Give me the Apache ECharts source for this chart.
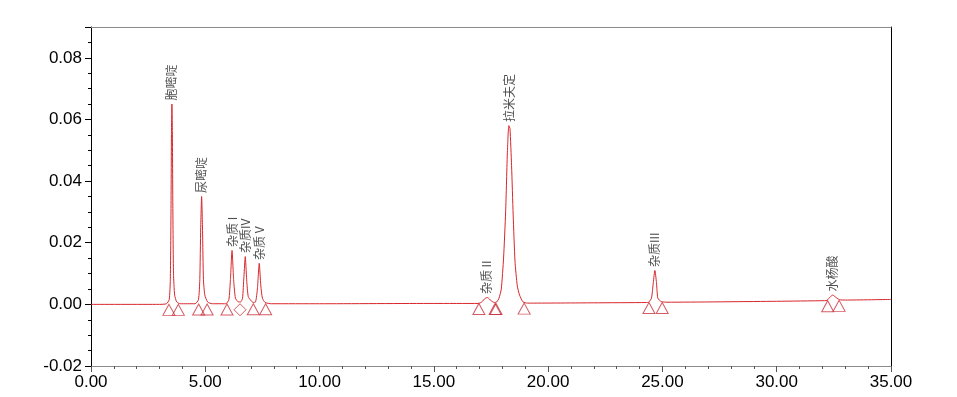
<!DOCTYPE html>
<html>
<head>
<meta charset="utf-8">
<script src="https://cdn.jsdelivr.net/npm/echarts@6/dist/echarts.min.js"></script>
<style>
html,body{margin:0;padding:0;background:#fff;}
#chart{width:957px;height:397px;}
</style>
</head>
<body>
<div id="chart"></div>
<script>
// Chromatogram trace: retention time (min) and signal (AU)
var traceTime = [
  0, 3.00, 3.30, 3.42, 3.47, 3.50, 3.52, 3.54, 3.56, 3.58, 3.61, 3.66, 3.75, 3.90,
  4.55, 4.70, 4.76, 4.80, 4.84, 4.88, 4.92, 4.98, 5.10, 5.30,
  5.90, 6.03, 6.10, 6.17, 6.24, 6.32, 6.45,
  6.55, 6.63, 6.69, 6.75, 6.81, 6.88, 7.00, 7.10,
  7.20, 7.28, 7.36, 7.43, 7.50, 7.62, 7.90,
  10.0, 15.0, 16.95, 17.10, 17.25, 17.35, 17.50, 17.65, 17.75,
  17.85, 17.95, 18.05, 18.14, 18.22, 18.28, 18.33, 18.40, 18.47, 18.55, 18.65, 18.75, 18.90, 19.10,
  22.0, 24.30, 24.40, 24.52, 24.60, 24.67, 24.74, 24.80, 24.95, 25.20,
  30.0, 32.10, 32.20, 32.35, 32.45, 32.60, 32.75, 33.00, 35.00
];
var traceSignal = [
  0.0000, 0.0000, 0.0002, 0.0015, 0.0080, 0.0300, 0.0550, 0.0650, 0.0560, 0.0320, 0.0100, 0.0030, 0.0008, 0.0002,
  0.0002, 0.0015, 0.0080, 0.0250, 0.0350, 0.0240, 0.0080, 0.0030, 0.0008, 0.0002,
  0.0002, 0.0015, 0.0080, 0.0175, 0.0080, 0.0020, 0.0008,
  0.0008, 0.0020, 0.0090, 0.0155, 0.0080, 0.0025, 0.0012, 0.0006,
  0.0008, 0.0050, 0.0133, 0.0060, 0.0020, 0.0006, 0.0002,
  0.0002, 0.0003, 0.0003, 0.0008, 0.0020, 0.0022, 0.0012, 0.0006, 0.0008,
  0.0020, 0.0050, 0.0150, 0.0300, 0.0500, 0.0580, 0.0570, 0.0450, 0.0290, 0.0140, 0.0060, 0.0030, 0.0008, 0.0004,
  0.0005, 0.0006, 0.0007, 0.0020, 0.0070, 0.0110, 0.0070, 0.0020, 0.0009, 0.0007,
  0.0010, 0.0012, 0.0013, 0.0025, 0.0030, 0.0022, 0.0015, 0.0014, 0.0016
];

// Peak names, apex times and apex heights
var peakNames = ['胞嘧啶', '尿嘧啶', '杂质 I', '杂质IV', '杂质 V', '杂质 II', '拉米夫定', '杂质III', '水杨酸'];
var peakTimes = [3.54, 4.84, 6.17, 6.75, 7.36, 17.30, 18.30, 24.67, 32.45];
var peakTops  = [0.0650, 0.0350, 0.0175, 0.0155, 0.0133, 0.0022, 0.0580, 0.0110, 0.0030];

// Integration markers (peak start / end) on the baseline
var triangleTimes  = [3.41, 3.82, 4.71, 5.08, 5.95, 7.10, 7.64, 16.97, 17.68, 17.72, 18.95, 24.41, 24.99, 32.23, 32.73];
var triangleLevels = [0.0000, 0.0000, 0.0001, 0.0001, 0.0001, 0.0002, 0.0002, 0.0003, 0.0003, 0.0003, 0.0004, 0.0006, 0.0006, 0.0012, 0.0013];
var diamondTimes  = [6.52];
var diamondLevels = [0.0002];

// Axis ticks
var xMin = 0, xMax = 35, xStep = 5;
var yMin = -0.02, yMax = 0.09, yStep = 0.02;

function zip(a, b) { return a.map(function (v, i) { return [v, b[i]]; }); }

var chart = echarts.init(document.getElementById('chart'), null, {renderer: 'canvas'});
var traceColor = '#d8262b';
var markColor = '#c8323c';
var labelFont = 'Liberation Sans, Arial, sans-serif';

chart.setOption({
  animation: false,
  backgroundColor: '#ffffff',
  grid: {left: 91, right: 66, top: 27, bottom: 31, containLabel: false},
  xAxis: [{
    type: 'value', position: 'bottom', min: xMin, max: xMax, interval: xStep,
    axisLine: {show: true, onZero: false, lineStyle: {color: '#8a8a8a', width: 1}},
    axisTick: {show: true, length: 6, lineStyle: {color: '#555'}},
    minorTick: {show: true, splitNumber: 5, length: 3, lineStyle: {color: '#555'}},
    splitLine: {show: false},
    axisLabel: {color: '#000', fontFamily: labelFont, fontSize: 17, margin: 8,
      formatter: function (v) { return v.toFixed(2); }}
  }, {
    type: 'value', position: 'top', min: xMin, max: xMax,
    axisLine: {show: true, onZero: false, lineStyle: {color: '#8a8a8a', width: 1}},
    axisTick: {show: false}, axisLabel: {show: false}, splitLine: {show: false}
  }],
  yAxis: [{
    type: 'value', position: 'left', min: yMin, max: yMax, interval: yStep,
    axisLine: {show: true, onZero: false, lineStyle: {color: '#000', width: 1}},
    axisTick: {show: true, length: 6, lineStyle: {color: '#000'}},
    minorTick: {show: true, splitNumber: 4, length: 3, lineStyle: {color: '#000'}},
    splitLine: {show: false},
    axisLabel: {color: '#000', fontFamily: labelFont, fontSize: 17, margin: 9, showMaxLabel: false,
      formatter: function (v) {
        var k = Math.round(v / yStep * 1000) / 1000;
        if (Math.abs(k - Math.round(k)) > 1e-6) return '';
        return v.toFixed(2);
      }}
  }, {
    type: 'value', position: 'right', min: yMin, max: yMax,
    axisLine: {show: true, onZero: false, lineStyle: {color: '#000', width: 1}},
    axisTick: {show: false}, axisLabel: {show: false}, splitLine: {show: false}
  }],
  series: [{
    type: 'line', xAxisIndex: 0, yAxisIndex: 0,
    data: zip(traceTime, traceSignal),
    showSymbol: false, symbol: 'none', smooth: 0.2,
    lineStyle: {color: traceColor, width: 1}
  }, {
    type: 'scatter', xAxisIndex: 0, yAxisIndex: 0,
    data: zip(triangleTimes, triangleLevels),
    symbol: 'triangle', symbolSize: [12, 11], symbolOffset: [0, 5.5],
    itemStyle: {color: 'rgba(0,0,0,0)', borderColor: markColor, borderWidth: 1}
  }, {
    type: 'scatter', xAxisIndex: 0, yAxisIndex: 0,
    data: zip(diamondTimes, diamondLevels),
    symbol: 'diamond', symbolSize: [12, 12], symbolOffset: [0, 6],
    itemStyle: {color: 'rgba(0,0,0,0)', borderColor: markColor, borderWidth: 1}
  }, {
    type: 'scatter', xAxisIndex: 0, yAxisIndex: 0,
    data: peakTimes.map(function (t, i) { return {value: [t, peakTops[i]], name: peakNames[i]}; }),
    symbolSize: 1, itemStyle: {color: 'rgba(0,0,0,0)'},
    label: {
      show: true, position: 'top', distance: 3, rotate: 90,
      align: 'left', verticalAlign: 'middle',
      fontFamily: 'Noto Sans CJK SC, sans-serif', fontSize: 12, color: '#222',
      formatter: function (p) { return p.name; }
    }
  }]
});
</script>
</body>
</html>
